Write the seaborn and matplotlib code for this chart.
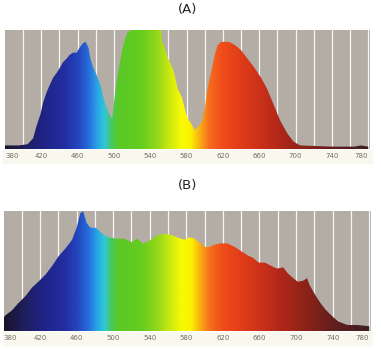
import numpy as np
import pandas as pd
import matplotlib
matplotlib.use("Agg")
import matplotlib.pyplot as plt
import seaborn as sns
from matplotlib.colors import LinearSegmentedColormap
from matplotlib.patches import Rectangle, Polygon

# Emission spectra (relative intensity vs wavelength in nm)
wavelength_a = [380, 395, 405, 411, 415, 419, 422, 426, 430, 433, 437, 441, 444, 448,
                451, 455, 459, 462, 466, 469, 472, 474, 477, 481, 485, 488, 492, 495,
                498, 501, 504, 506, 509, 512, 515, 519, 552, 553, 556, 559, 564, 567,
                570, 575, 578, 581, 586, 589, 592, 597, 600, 603, 608, 611, 614, 618,
                627, 634, 640, 647, 654, 662, 669, 676, 683, 691, 698, 705, 740, 765,
                772, 780]
intensity_a = [0.03, 0.03, 0.04, 0.09, 0.20, 0.29, 0.39, 0.48, 0.55, 0.60, 0.64, 0.69,
               0.73, 0.76, 0.79, 0.81, 0.81, 0.85, 0.89, 0.90, 0.85, 0.76, 0.69, 0.62,
               0.54, 0.44, 0.35, 0.29, 0.25, 0.45, 0.62, 0.70, 0.83, 0.92, 0.98, 1.00,
               1.00, 0.90, 0.85, 0.77, 0.69, 0.62, 0.51, 0.43, 0.34, 0.26, 0.20, 0.16,
               0.18, 0.23, 0.34, 0.51, 0.68, 0.79, 0.87, 0.90, 0.90, 0.87, 0.83, 0.76,
               0.69, 0.60, 0.50, 0.37, 0.24, 0.13, 0.06, 0.03, 0.02, 0.02, 0.03, 0.02]

wavelength_b = [380, 382, 389, 396, 404, 411, 418, 426, 433, 440, 448, 455, 460, 464,
                467, 471, 475, 481, 484, 488, 495, 503, 512, 520, 526, 532, 537, 543,
                549, 556, 564, 570, 578, 583, 589, 594, 600, 605, 611, 618, 625, 633,
                641, 647, 653, 659, 666, 671, 679, 686, 691, 697, 702, 708, 712, 715,
                721, 727, 732, 740, 746, 756, 767, 780]
intensity_b = [0.11, 0.13, 0.17, 0.23, 0.29, 0.36, 0.41, 0.47, 0.54, 0.62, 0.69, 0.76,
               0.86, 0.98, 1.00, 0.90, 0.86, 0.86, 0.84, 0.81, 0.78, 0.77, 0.77, 0.74,
               0.77, 0.73, 0.74, 0.77, 0.80, 0.81, 0.80, 0.78, 0.76, 0.78, 0.77, 0.74,
               0.70, 0.70, 0.72, 0.73, 0.73, 0.70, 0.66, 0.63, 0.61, 0.57, 0.57, 0.55,
               0.52, 0.53, 0.48, 0.44, 0.41, 0.42, 0.44, 0.38, 0.30, 0.23, 0.18, 0.12,
               0.08, 0.05, 0.05, 0.04]

tick_values = [380, 420, 460, 500, 540, 580, 620, 660, 700, 740, 780]
panel_titles = ["(A)", "(B)"]

# Wavelength -> displayed colour
spectrum_stops = [
    (380, (25, 20, 45)), (400, (30, 30, 90)), (420, (30, 35, 130)),
    (445, (35, 45, 160)), (460, (35, 70, 190)), (472, (40, 110, 220)),
    (482, (40, 170, 230)), (490, (50, 200, 210)), (497, (70, 200, 90)),
    (505, (90, 200, 40)), (530, (100, 205, 30)), (548, (150, 215, 25)),
    (563, (210, 235, 15)), (575, (250, 250, 5)), (585, (250, 240, 0)),
    (595, (250, 170, 20)), (605, (245, 110, 30)), (620, (240, 75, 25)),
    (650, (215, 55, 25)), (680, (180, 40, 25)), (710, (140, 35, 25)),
    (740, (100, 30, 30)), (782, (60, 30, 35)),
]
WL_MIN, WL_MAX = 380, 782
spec_cmap = LinearSegmentedColormap.from_list(
    "spectrum",
    [((w - WL_MIN) / (WL_MAX - WL_MIN), tuple(c / 255 for c in rgb)) for w, rgb in spectrum_stops],
)

sns.set_style("white")
plt.rcParams["font.family"] = ["DejaVu Sans"]

fig = plt.figure(figsize=(3.81, 3.49), dpi=100)
W, H = 381, 349

def px_axes(left, top, right, bottom):
    return fig.add_axes([left / W, 1 - bottom / H, (right - left) / W, (bottom - top) / H])

panels = [
    (px_axes(5, 30, 370, 149), wavelength_a, intensity_a, 10, 149),
    (px_axes(3.5, 211, 371, 331), wavelength_b, intensity_b, 185, 331),
]

bg = "#b3ada6"
for (ax, wl, val, title_y, bottom_px), title in zip(panels, panel_titles):
    # pale label strip under the plot area, kept behind the axes
    fig.patches.append(Rectangle((3 / W, 1 - (bottom_px + 14) / H), 369 / W, 13 / H,
                                 transform=fig.transFigure, color="#f9f8ee", zorder=-5))
    ax.set_facecolor(bg)
    for g in range(400, 781, 20):
        ax.axvline(g, color="white", lw=0.9, alpha=0.9, zorder=1)

    df = pd.DataFrame({"wavelength": wl, "intensity": val})
    sns.lineplot(data=df, x="wavelength", y="intensity", ax=ax, lw=0, zorder=3)

    xs = np.asarray(wl, float)
    ys = np.asarray(val, float)
    verts = np.vstack([[xs[0], 0], np.column_stack([xs, ys]), [xs[-1], 0]])
    envelope = Polygon(verts, closed=True, facecolor="none", edgecolor="none")
    ax.add_patch(envelope)

    grad = np.linspace(WL_MIN, WL_MAX, 900)[None, :]
    img = ax.imshow(grad, extent=[WL_MIN, WL_MAX, 0, 1], aspect="auto", cmap=spec_cmap,
                    vmin=WL_MIN, vmax=WL_MAX, interpolation="bilinear", zorder=2)
    img.set_clip_path(envelope)

    ax.set_xlim(WL_MIN, WL_MAX)
    ax.set_ylim(0, 1.0)
    ax.set_yticks([])
    ax.set_xticks(tick_values)
    ax.set_xticklabels([str(t) for t in tick_values], fontsize=5, color="#6f6f68")
    ax.tick_params(axis="x", length=0, pad=3)
    labels = ax.get_xticklabels()
    labels[0].set_ha("left")
    labels[-1].set_ha("right")
    ax.set_xlabel("")
    ax.set_ylabel("")
    for s in ax.spines.values():
        s.set_visible(False)

    fig.text(188 / W, 1 - title_y / H, title, ha="center", va="center", fontsize=9.5, color="#222222")

fig.savefig("out.png", dpi=100)
